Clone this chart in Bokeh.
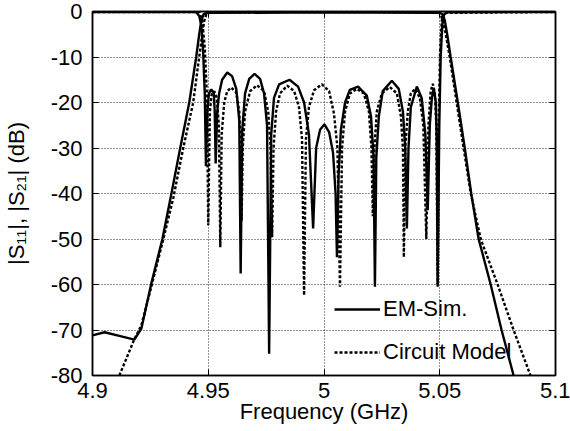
from bokeh.plotting import figure
from bokeh.models import Range1d, FixedTicker, LinearAxis, Legend, LegendItem
from bokeh.embed import file_html
from bokeh.resources import INLINE

# ---------------- data ----------------
x_ticks = [4.9, 4.95, 5.0, 5.05, 5.1]
x_tick_labels = ["4.9", "4.95", "5", "5.05", "5.1"]
y_ticks = [0, -10, -20, -30, -40, -50, -60, -70, -80]
y_tick_labels = ["0", "-10", "-20", "-30", "-40", "-50", "-60", "-70", "-80"]

# |S21| EM simulation
f_s21_em = [4.9000, 4.9052, 4.9116, 4.9181, 4.9211, 4.9254, 4.9302, 4.9341, 4.9379,
            4.9418, 4.9448, 4.9461, 4.9470, 4.9480, 4.9495, 5.0000, 5.0500, 5.0513,
            5.0522, 5.0532, 5.0547, 5.0578, 5.0608, 5.0636, 5.0668, 5.0720, 5.0767, 5.0819]
s21_em = [-71.2, -70.5, -71.3, -72.1, -69.7, -59.8, -50.0, -40.0, -30.0,
          -20.0, -10.0, -5.0, -2.0, -0.6, -0.3, -0.2, -0.3, -0.6,
          -2.0, -5.0, -10.0, -20.0, -30.0, -40.0, -50.0, -60.0, -70.0, -80.0]

# |S21| circuit model
f_s21_cm = [4.9116, 4.9181, 4.9211, 4.9254, 4.9306, 4.9349, 4.9392, 4.9435, 4.9461,
            4.9474, 4.9483, 4.9492, 4.9505, 5.0000, 5.0495, 5.0504, 5.0513, 5.0526,
            5.0543, 5.0573, 5.0603, 5.0634, 5.0677, 5.0750, 5.0819, 5.0892]
s21_cm = [-80.0, -72.0, -69.0, -60.5, -50.0, -41.0, -30.0, -20.0, -10.0,
          -5.0, -2.0, -0.6, -0.2, -0.1, -0.2, -0.6, -2.0, -5.0,
          -10.0, -20.0, -30.0, -40.0, -50.0, -60.0, -70.0, -80.0]

# |S11| EM simulation
f_s11_em = [4.9000, 4.9448, 4.9461, 4.9470, 4.9478, 4.9485, 4.9490, 4.9496, 4.9503,
            4.9513, 4.9524, 4.9528, 4.9532, 4.9539, 4.9547, 4.9560, 4.9582, 4.9603,
            4.9621, 4.9634, 4.9640, 4.9647, 4.9659, 4.9677, 4.9700, 4.9724, 4.9741,
            4.9754, 4.9763, 4.9772, 4.9784, 4.9806, 4.9851, 4.9888, 4.9914, 4.9935,
            4.9953, 4.9966, 4.9983, 5.0002, 5.0022, 5.0039, 5.0050, 5.0056, 5.0063,
            5.0073, 5.0091, 5.0112, 5.0147, 5.0185, 5.0203, 5.0214, 5.0220, 5.0226,
            5.0237, 5.0254, 5.0293, 5.0323, 5.0341, 5.0351, 5.0358, 5.0365, 5.0375,
            5.0401, 5.0422, 5.0438, 5.0448, 5.0457, 5.0466, 5.0474, 5.0483, 5.0487,
            5.0491, 5.0498, 5.0504, 5.0511, 5.0517, 5.0530, 5.1000]
s11_em = [-0.1, -0.1, -1.0, -3.0, -9.0, -18.0, -34.0, -22.0, -18.0,
          -17.1, -18.0, -22.0, -33.4, -22.0, -18.0, -15.0, -13.4, -14.2,
          -17.0, -24.0, -57.6, -26.0, -18.0, -14.8, -13.7, -14.8, -18.0,
          -25.0, -75.2, -27.0, -19.0, -16.0, -15.0, -16.5, -20.0, -27.0,
          -47.7, -30.0, -26.0, -24.8, -26.5, -31.0, -40.0, -54.0, -36.0,
          -26.0, -20.0, -17.2, -16.5, -18.5, -23.0, -32.0, -60.5, -32.0,
          -23.0, -17.5, -15.2, -17.0, -22.0, -30.0, -47.7, -30.0, -21.0,
          -16.5, -19.0, -27.0, -43.7, -25.0, -19.0, -16.8, -20.0, -28.0,
          -60.5, -25.0, -10.0, -3.0, -0.8, -0.2, -0.1]

# |S11| circuit model
f_s11_cm = [4.9000, 4.9461, 4.9474, 4.9485, 4.9494, 4.9500, 4.9507, 4.9515, 4.9526,
            4.9537, 4.9546, 4.9552, 4.9558, 4.9569, 4.9582, 4.9599, 4.9621, 4.9634,
            4.9640, 4.9644, 4.9649, 4.9659, 4.9681, 4.9711, 4.9741, 4.9759, 4.9769,
            4.9776, 4.9782, 4.9793, 4.9810, 4.9841, 4.9871, 4.9892, 4.9905, 4.9914,
            4.9922, 4.9935, 4.9957, 4.9991, 5.0022, 5.0043, 5.0058, 5.0069, 5.0078,
            5.0091, 5.0112, 5.0142, 5.0172, 5.0194, 5.0205, 5.0211, 5.0218, 5.0228,
            5.0250, 5.0284, 5.0315, 5.0332, 5.0341, 5.0345, 5.0351, 5.0362, 5.0375,
            5.0394, 5.0414, 5.0429, 5.0442, 5.0451, 5.0461, 5.0470, 5.0479, 5.0485,
            5.0491, 5.0496, 5.0502, 5.0509, 5.0517, 5.1000]
s11_cm = [-0.1, -0.1, -2.0, -8.0, -18.0, -47.0, -22.0, -18.2, -17.5,
          -19.0, -25.0, -51.8, -27.0, -20.0, -17.5, -16.7, -17.8, -22.0,
          -30.0, -46.0, -30.0, -22.0, -17.5, -16.2, -17.5, -22.0, -30.0,
          -49.6, -30.0, -22.0, -18.0, -16.3, -17.5, -21.0, -28.0, -62.4,
          -28.0, -21.0, -17.3, -16.0, -17.5, -22.4, -30.0, -60.5, -30.0,
          -22.0, -18.0, -17.0, -18.0, -22.0, -30.0, -45.0, -30.0, -22.0,
          -18.0, -16.6, -18.0, -23.0, -30.0, -54.0, -30.0, -22.0, -18.0,
          -17.0, -19.0, -25.0, -50.0, -25.0, -17.5, -15.9, -18.0, -25.0,
          -60.0, -22.0, -8.0, -2.0, -0.3, -0.1]

legend_labels = ["EM-Sim.", "Circuit Model"]
x_label = "Frequency (GHz)"
y_label = "|S\u2081\u2081|, |S\u2082\u2081| (dB)"

# ---------------- figure ----------------
FONT = "Liberation Sans"
FS = "22px"
p = figure(width=570, height=431,
           x_range=Range1d(4.9, 5.1), y_range=Range1d(-80, 0),
           output_backend="svg", toolbar_location=None,
           min_border_left=91, min_border_right=15,
           min_border_top=11, min_border_bottom=56,
           x_axis_label=x_label, y_axis_label=y_label)
p.background_fill_color = "white"
p.border_fill_color = "white"
p.outline_line_color = "black"
p.outline_line_width = 1.5

xt = FixedTicker(ticks=x_ticks)
yt = FixedTicker(ticks=y_ticks)

for ax in (p.xaxis[0], p.yaxis[0]):
    ax.axis_line_color = "black"
    ax.axis_line_width = 1.5
    ax.major_tick_in = 6
    ax.major_tick_out = 0
    ax.minor_tick_line_color = None
    ax.major_tick_line_color = "black"
    ax.major_label_text_font = FONT
    ax.major_label_text_font_size = FS
    ax.major_label_text_color = "black"
    ax.axis_label_text_font = FONT
    ax.axis_label_text_font_size = FS
    ax.axis_label_text_font_style = "normal"
    ax.axis_label_text_color = "black"

p.xaxis[0].ticker = xt
p.yaxis[0].ticker = yt
p.xaxis[0].major_label_overrides = dict(zip(x_ticks, x_tick_labels))
p.yaxis[0].major_label_overrides = dict(zip(y_ticks, y_tick_labels))
p.xaxis[0].major_label_standoff = 7
p.xaxis[0].axis_label_standoff = -2
p.yaxis[0].major_label_standoff = 10
p.yaxis[0].axis_label_standoff = 19

# inside ticks on top and right
top_ax = LinearAxis(ticker=xt, major_label_overrides={t: "" for t in x_ticks})
right_ax = LinearAxis(ticker=yt, major_label_overrides={t: "" for t in y_ticks})
for ax in (top_ax, right_ax):
    ax.axis_line_color = "black"
    ax.axis_line_width = 1.5
    ax.major_tick_in = 6
    ax.major_tick_out = 0
    ax.minor_tick_line_color = None
    ax.major_label_standoff = 0
    ax.major_label_text_font_size = "1px"
p.add_layout(top_ax, "above")
p.add_layout(right_ax, "right")

for g, t in ((p.xgrid[0], xt), (p.ygrid[0], yt)):
    g.ticker = t
    g.grid_line_color = "black"
    g.grid_line_alpha = 0.85
    g.grid_line_width = 1
    g.grid_line_dash = "1 2"

# curves
r21e = p.line(f_s21_em, s21_em, line_color="black", line_width=2.4)
r11e = p.line(f_s11_em, s11_em, line_color="black", line_width=2.4)
r21c = p.line(f_s21_cm, s21_cm, line_color="black", line_width=2.4, line_dash="3 2")
r11c = p.line(f_s11_cm, s11_cm, line_color="black", line_width=2.4, line_dash="3 2")

legend = Legend(items=[LegendItem(label=legend_labels[0], renderers=[r11e]),
                       LegendItem(label=legend_labels[1], renderers=[r11c])],
                location=(242, 10))
legend.background_fill_alpha = 0
legend.border_line_alpha = 0
legend.label_text_font = FONT
legend.label_text_font_size = FS
legend.label_text_color = "black"
legend.glyph_width = 46
legend.glyph_height = 22
legend.label_height = 22
legend.label_standoff = 3
legend.spacing = 17
legend.padding = 0
legend.margin = 0
p.add_layout(legend)

open("out.html", "w").write(file_html(p, INLINE))
